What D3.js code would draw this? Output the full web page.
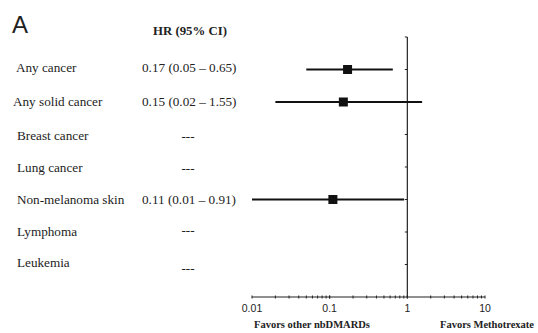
<!DOCTYPE html>
<html><head><meta charset="utf-8">
<script src="https://cdn.jsdelivr.net/npm/d3@7"></script>
<style>body{margin:0;background:#fff}svg{display:block}</style>
</head><body>
<svg id="c" width="538" height="333"></svg>
<script>
const outcomes = ["Any cancer","Any solid cancer","Breast cancer","Lung cancer","Non-melanoma skin","Lymphoma","Leukemia"];
const hrLabels = ["0.17 (0.05 \u2013 0.65)","0.15 (0.02 \u2013 1.55)","---","---","0.11 (0.01 \u2013 0.91)","---","---"];
const hr =    [0.17, 0.15, null, null, 0.11, null, null];
const lower = [0.05, 0.02, null, null, 0.01, null, null];
const upper = [0.65, 1.55, null, null, 0.91, null, null];
const xTicks = [0.01, 0.1, 1, 10];

const svg = d3.select("#c");
const x = d3.scaleLog().domain([0.01, 10]).range([252, 485]);
const y = d3.scaleLinear().domain([0, outcomes.length + 1]).range([37, 297]);
const serif = "'Liberation Serif','Times New Roman',serif";
const sans = "'Liberation Sans',Arial,sans-serif";
const ink = "#222";

svg.append("text").attr("x", 12).attr("y", 33).text("A")
  .style("font-family", sans).style("font-size", "24px").attr("fill", ink);
svg.append("text").attr("x", 190).attr("y", 35).attr("text-anchor", "middle").text("HR (95% CI)")
  .style("font-family", serif).style("font-size", "12.8px").style("font-weight", "bold").attr("fill", ink);

const labX = [16,13,17,17,17,17,17];
const labDy = [-2,0,1,1,0,0,-2];
outcomes.forEach((o,i)=>{
  svg.append("text").attr("x", labX[i]).attr("y", y(i+1)+4+labDy[i]).text(o)
    .style("font-family", serif).style("font-size", "13.2px").attr("fill", ink);
  const dashed = hr[i] === null;
  const off = i===6 ? 5 : (i===5 ? -2 : 0);
  svg.append("text").attr("x", dashed ? 188 : 142).attr("y", y(i+1)+4+off+labDy[i])
    .attr("text-anchor", dashed ? "middle" : "start").text(hrLabels[i])
    .style("font-family", serif).style("font-size", "13.2px").attr("fill", ink);
});

// x axis
const axis = svg.append("g").attr("transform", `translate(0,${y(outcomes.length+1)})`);
axis.append("line").attr("x1", x(0.01)).attr("x2", x(10)).attr("stroke", ink).attr("stroke-width", 1.2);
const minor = [];
[0.01,0.1,1].forEach(d=>{for(let k=1;k<=10;k++) minor.push(d*k);});
axis.selectAll("line.t").data(minor).join("line").attr("class","t")
  .attr("x1", d=>x(d)).attr("x2", d=>x(d)).attr("y1", -1.5).attr("y2", 1.5)
  .attr("stroke", ink).attr("stroke-width", 1);
axis.selectAll("text").data(xTicks).join("text")
  .attr("x", d=>x(d)).attr("y", 15).attr("text-anchor", "middle")
  .text(d=>String(d)).style("font-family", sans).style("font-size", "10.5px").attr("fill", ink);

svg.append("text").attr("x", 312).attr("y", 328).attr("text-anchor", "middle").text("Favors other nbDMARDs")
  .style("font-family", serif).style("font-size", "10.5px").style("font-weight", "bold").attr("fill", ink);
svg.append("text").attr("x", 487).attr("y", 328).attr("text-anchor", "middle").text("Favors Methotrexate")
  .style("font-family", serif).style("font-size", "10.5px").style("font-weight", "bold").attr("fill", ink);

// reference line at 1
svg.append("line").attr("x1", x(1)).attr("x2", x(1)).attr("y1", y(0)).attr("y2", y(outcomes.length+1))
  .attr("stroke", ink).attr("stroke-width", 1.2);
svg.selectAll("line.yt").data(d3.range(0, outcomes.length+1)).join("line").attr("class","yt")
  .attr("x1", x(1)-2.5).attr("x2", x(1)).attr("y1", d=>y(d)).attr("y2", d=>y(d))
  .attr("stroke", ink).attr("stroke-width", 1);

// CIs
outcomes.forEach((o,i)=>{
  if (hr[i] === null) return;
  const yy = y(i+1);
  svg.append("line").attr("x1", x(lower[i])).attr("x2", x(upper[i])).attr("y1", yy).attr("y2", yy)
    .attr("stroke", "#111").attr("stroke-width", 2);
  svg.append("rect").attr("x", x(hr[i])-4.5).attr("y", yy-4.5).attr("width", 9).attr("height", 9).attr("fill", "#111");
});
</script>
</body></html>
